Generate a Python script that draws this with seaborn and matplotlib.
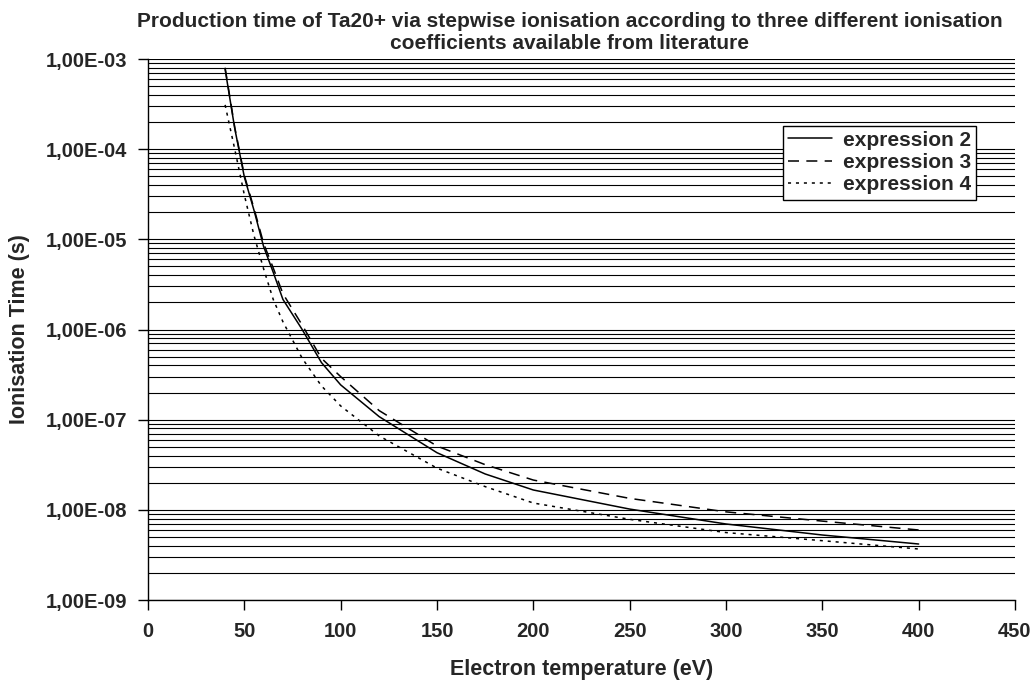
import numpy as np
import pandas as pd
import matplotlib
matplotlib.use("Agg")
import matplotlib.pyplot as plt
import matplotlib.ticker as mticker
import seaborn as sns

# values
temp = [40, 45, 50, 55, 60, 65, 70, 80, 90, 100, 120, 150, 175, 200, 250, 300, 350, 400]
expr2 = [7.7e-4, 1.7e-4, 4.9e-5, 2.1e-5, 8.3e-6, 4.3e-6, 2.16e-6, 1.0e-6, 4.3e-7, 2.43e-7,
         1.08e-7, 4.3e-8, 2.5e-8, 1.66e-8, 1.02e-8, 6.97e-9, 5.26e-9, 4.18e-9]
expr3 = [8.0e-4, 1.75e-4, 5.1e-5, 2.2e-5, 9.0e-6, 4.8e-6, 2.5e-6, 1.12e-6, 4.8e-7, 3.0e-7,
         1.26e-7, 5.1e-8, 3.17e-8, 2.14e-8, 1.34e-8, 9.5e-9, 7.5e-9, 5.98e-9]
expr4 = [3.1e-4, 1.0e-4, 3.1e-5, 1.1e-5, 4.7e-6, 2.15e-6, 1.22e-6, 4.8e-7, 2.37e-7, 1.42e-7,
         6.6e-8, 2.9e-8, 1.81e-8, 1.19e-8, 7.85e-9, 5.6e-9, 4.55e-9, 3.68e-9]
series_names = ["expression 2", "expression 3", "expression 4"]
y_ticks = [1e-9, 1e-8, 1e-7, 1e-6, 1e-5, 1e-4, 1e-3]
x_ticks = [0, 50, 100, 150, 200, 250, 300, 350, 400, 450]

df = pd.DataFrame({
    "T": temp * 3,
    "t": expr2 + expr3 + expr4,
    "series": [series_names[0]] * len(temp) + [series_names[1]] * len(temp) + [series_names[2]] * len(temp),
})

sns.set_style("white")
plt.rcParams["font.family"] = ["Liberation Sans", "DejaVu Sans"]
plt.rcParams["font.weight"] = "bold"

fig = plt.figure(figsize=(10.36, 6.83), dpi=100)
ax = fig.add_axes([0.1429, 0.1215, 0.8368, 0.7921])

sns.lineplot(
    data=df, x="T", y="t", hue="series", style="series",
    palette=["black"] * 3,
    dashes={"expression 2": "", "expression 3": (7.2, 4.8), "expression 4": (2, 3.2)},
    linewidth=1.1, ax=ax,
)

ax.set_yscale("log")
ax.set_ylim(1e-9, 1e-3)
ax.set_xlim(0, 450)
ax.xaxis.set_major_locator(mticker.FixedLocator(x_ticks))
ax.yaxis.set_major_locator(mticker.FixedLocator(y_ticks))
minor = [m * d for d in y_ticks[:-1] for m in range(2, 10)]
ax.yaxis.set_minor_locator(mticker.FixedLocator(minor))
ax.yaxis.set_major_formatter(mticker.FuncFormatter(lambda v, p: f"{v:.2E}".replace(".", ",")))
ax.yaxis.set_minor_formatter(mticker.NullFormatter())

ax.yaxis.grid(True, which="both", color="black", linewidth=0.8)
ax.xaxis.grid(False)
ax.set_axisbelow(True)

for side in ["top", "right"]:
    ax.spines[side].set_visible(False)
for side in ["left", "bottom"]:
    ax.spines[side].set_color("black")
    ax.spines[side].set_linewidth(1.0)

ax.tick_params(axis="both", which="major", direction="out", length=7, width=1, color="black",
               labelsize=14.5)
ax.tick_params(axis="y", which="major", pad=8)
ax.tick_params(axis="x", which="major", pad=9)
ax.tick_params(axis="y", which="minor", length=0)
ax.tick_params(axis="y", which="major", left=True)
ax.tick_params(axis="x", which="major", bottom=True)
for lbl in ax.get_xticklabels() + ax.get_yticklabels():
    lbl.set_fontweight("bold")

ax.set_xlabel("Electron temperature (eV)", fontsize=15.5, fontweight="bold", labelpad=13)
ax.set_ylabel("Ionisation Time (s)", fontsize=15.5, fontweight="bold", labelpad=11)
ax.set_title("Production time of Ta20+ via stepwise ionisation according to three different ionisation\n"
             "coefficients available from literature", fontsize=15, fontweight="bold", pad=7,
             x=0.486, linespacing=1.2)

leg = ax.legend(loc="upper right", bbox_to_anchor=(0.955, 0.877), frameon=True, fancybox=False,
                framealpha=1, edgecolor="black", fontsize=15, handlelength=2.1,
                borderpad=0.25, labelspacing=0.16, handletextpad=0.5, borderaxespad=0)
leg.get_frame().set_linewidth(1.0)
for t in leg.get_texts():
    t.set_fontweight("bold")

fig.savefig("out.png", dpi=100)
